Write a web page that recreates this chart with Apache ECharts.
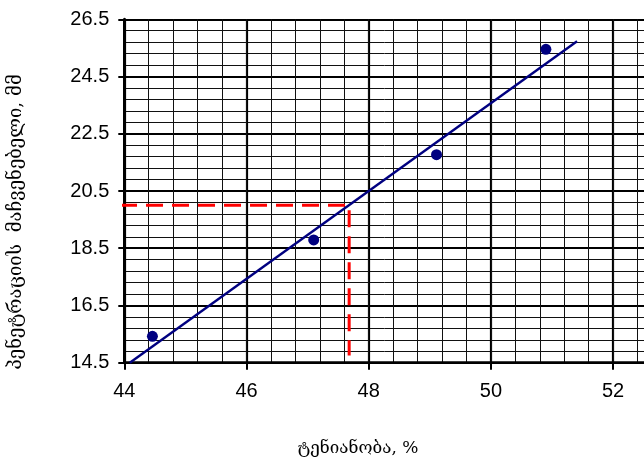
<!DOCTYPE html>
<html>
<head>
<meta charset="utf-8">
<script src="https://cdn.jsdelivr.net/npm/echarts@6/dist/echarts.min.js"></script>
<style>
  html, body { margin: 0; padding: 0; background: #fff; }
  #chart { width: 644px; height: 466px; }
</style>
</head>
<body>
<div id="chart"></div>
<script>
// Measured moisture vs penetration
const moisture = [44.46, 47.10, 49.11, 50.90];
const penetration = [15.42, 18.79, 21.77, 25.45];

// Trend line end points
const trendX = [44.09, 51.41];
const trendY = [14.5, 25.73];

// Read-off guide: penetration 20 mm -> moisture ~47.68 %
const guideX = [43.93, 47.68, 47.68];
const guideY = [20, 20, 14.75];

// Axis ranges and tick steps
const xRange = [44, 52.8];
const yRange = [14.5, 26.5];
const majorStep = 2;
const minorStep = 0.4;

const xTitle = 'ტენიანობა, %';
const yTitle = 'პენეტრაციის  მაჩვენებელი, მმ';

const pts = moisture.map((x, i) => [x, penetration[i]]);
const trend = trendX.map((x, i) => [x, trendY[i]]);
const guide = guideX.map((x, i) => [x, guideY[i]]);

const labelFont = { fontFamily: 'Liberation Sans, Arial, sans-serif', fontSize: 20, color: '#000' };
const titleFamily = 'DejaVu Serif, DejaVu Sans, serif';

const chart = echarts.init(document.getElementById('chart'), null, { renderer: 'canvas' });
chart.setOption({
  animation: false,
  backgroundColor: '#fff',
  grid: { left: 124.3, top: 19.3, right: -18, bottom: 103.3, outerBoundsMode: 'none', containLabel: false },
  xAxis: [
    {
      type: 'value', min: xRange[0], max: xRange[1], interval: majorStep, position: 'bottom',
      axisLine: { show: true, onZero: false, lineStyle: { color: '#000', width: 2.5 } },
      axisTick: { show: true, length: 7, lineStyle: { color: '#000', width: 2 } },
      axisLabel: {
        margin: 19, ...labelFont,
        formatter: v => (Math.abs((v - xRange[0]) / majorStep - Math.round((v - xRange[0]) / majorStep)) < 1e-6 ? String(v) : '')
      },
      splitLine: { show: true, lineStyle: { color: '#000', width: 2.2 } }
    },
    {
      type: 'value', min: xRange[0], max: xRange[1], interval: minorStep, position: 'top',
      axisLine: { show: false }, axisTick: { show: false }, axisLabel: { show: false },
      splitLine: { show: true, lineStyle: { color: '#111', width: 1 } }
    }
  ],
  yAxis: {
    type: 'value', min: yRange[0], max: yRange[1], interval: majorStep,
    axisLine: { show: true, onZero: false, lineStyle: { color: '#000', width: 3 } },
    axisTick: { show: true, length: 6, lineStyle: { color: '#000', width: 2 } },
    axisLabel: { margin: 15, ...labelFont, formatter: v => v.toFixed(1) },
    splitLine: { show: true, lineStyle: { color: '#000', width: 2.2 } },
    minorTick: { show: false, splitNumber: 5 },
    minorSplitLine: { show: true, lineStyle: { color: '#111', width: 1 } }
  },
  series: [
    {
      type: 'line', data: guide, xAxisIndex: 0, clip: false, symbol: 'none', z: 3,
      lineStyle: { color: '#ff0000', width: 3, type: [17, 9] }
    },
    {
      type: 'line', data: trend, xAxisIndex: 0, clip: false, symbol: 'none', z: 4,
      lineStyle: { color: '#000080', width: 2.4 }
    },
    {
      type: 'scatter', data: pts, xAxisIndex: 0, symbol: 'circle', symbolSize: 11, z: 5,
      itemStyle: { color: '#000080', opacity: 1 }
    }
  ],
  graphic: [
    {
      type: 'text', x: 358, y: 449,
      style: { text: xTitle, fontFamily: titleFamily, fontSize: 17, fill: '#000', align: 'center', verticalAlign: 'middle' }
    },
    {
      type: 'text', x: 16, y: 222, rotation: Math.PI / 2,
      style: { text: yTitle, fontFamily: titleFamily, fontSize: 18.5, fill: '#000', align: 'center', verticalAlign: 'middle' }
    }
  ]
});
</script>
</body>
</html>
